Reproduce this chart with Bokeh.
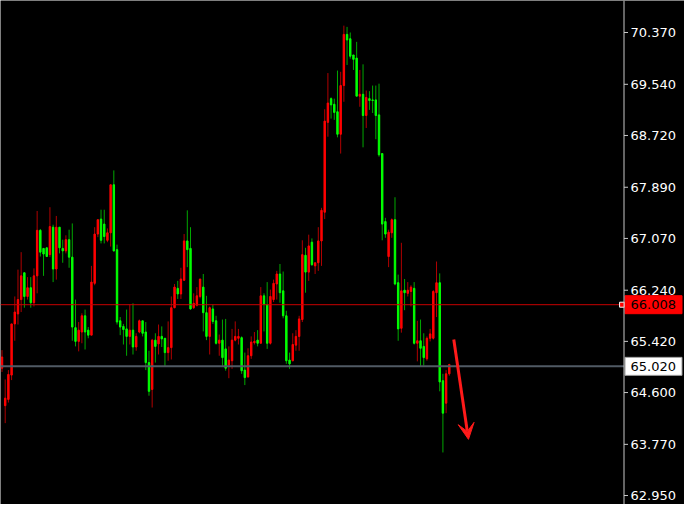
import numpy as np
from bokeh.plotting import figure
from bokeh.models import ColumnDataSource, Arrow, VeeHead, Range1d, Span
from bokeh.core.properties import value
from bokeh.embed import file_html
from bokeh.resources import INLINE

# ---- data ----
opens = [64.99, 64.39, 64.49, 64.88, 65.70, 65.86, 66.09, 66.52, 66.14, 66.28,
         66.04, 66.47, 67.20, 66.91, 66.92, 66.81, 67.25, 66.58, 67.25, 66.91,
         66.87, 67.05, 66.77, 65.64, 65.42, 65.57, 65.83, 65.60, 65.52, 66.35,
         67.14, 67.38, 67.30, 67.04, 67.16, 67.93, 66.89, 65.75, 65.66, 65.62,
         65.50, 65.60, 65.33, 65.57, 65.75, 65.57, 65.08, 64.65, 65.44, 65.38,
         65.50, 65.47, 65.24, 65.32, 65.96, 66.27, 66.18, 66.40, 67.03, 66.91,
         65.96, 66.00, 66.14, 66.29, 65.88, 65.50, 65.94, 65.75, 65.39, 65.44,
         65.30, 65.04, 65.11, 65.44, 65.47, 65.48, 64.96, 64.85, 65.19, 65.40,
         65.44, 65.39, 66.15, 66.01, 65.39, 66.09, 66.34, 66.50, 66.23, 65.83,
         65.12, 65.11, 65.36, 65.50, 65.77, 66.80, 66.53, 67.01, 66.63, 66.68,
         67.03, 67.49, 68.93, 69.31, 69.22, 69.10, 68.74, 69.52, 70.34, 70.27,
         70.01, 69.96, 69.35, 69.38, 69.04, 69.31, 69.29, 69.29, 69.05, 68.43,
         67.34, 66.78, 67.16, 67.37, 66.36, 65.63, 66.24, 66.19, 66.22, 66.27,
         65.39, 65.43, 65.34, 65.14, 65.47, 65.47, 66.20, 66.36, 64.79, 64.43,
         64.90]
highs = [65.28, 64.81, 64.96, 65.70, 66.14, 66.57, 66.85, 66.52, 66.45, 66.45,
         66.59, 67.51, 67.22, 66.91, 66.92, 67.57, 67.29, 67.43, 67.25, 67.05,
         67.12, 67.21, 67.31, 66.09, 65.73, 65.87, 65.93, 65.65, 66.63, 67.25,
         67.37, 67.53, 67.53, 67.23, 67.93, 68.16, 66.97, 65.81, 65.70, 65.93,
         66.01, 66.03, 65.55, 65.77, 65.75, 65.73, 65.27, 65.46, 65.55, 65.69,
         65.66, 65.47, 65.74, 66.14, 66.34, 66.39, 66.60, 67.14, 67.52, 67.25,
         66.19, 66.29, 66.42, 66.50, 66.15, 65.98, 66.01, 65.83, 65.53, 65.77,
         65.78, 65.34, 65.62, 65.74, 65.62, 65.50, 65.24, 65.31, 65.50, 65.57,
         65.60, 66.29, 66.19, 66.37, 66.25, 66.41, 66.55, 66.66, 66.54, 65.91,
         65.24, 65.55, 65.60, 65.83, 67.04, 66.92, 67.13, 67.07, 66.68, 67.25,
         67.56, 69.14, 69.72, 69.33, 69.31, 69.76, 69.74, 70.48, 70.46, 70.37,
         70.01, 70.22, 69.77, 69.86, 69.44, 69.43, 69.52, 69.52, 69.55, 68.43,
         67.40, 67.21, 67.39, 67.73, 66.49, 67.00, 66.42, 66.37, 66.32, 66.37,
         65.75, 65.77, 65.55, 65.50, 65.62, 66.24, 66.70, 66.51, 64.90, 64.96,
         65.06]
lows = [64.93, 64.11, 64.44, 64.80, 65.43, 65.69, 65.89, 65.96, 66.09, 65.96,
        65.98, 66.19, 66.78, 66.47, 66.78, 66.77, 66.37, 66.41, 66.83, 66.68,
        66.83, 66.60, 65.43, 65.34, 65.26, 65.39, 65.29, 65.47, 65.52, 66.32,
        67.09, 66.99, 66.99, 67.01, 66.94, 66.86, 65.69, 65.52, 65.37, 65.19,
        65.37, 65.21, 65.27, 65.55, 65.50, 64.96, 64.55, 64.36, 65.08, 65.21,
        65.33, 65.01, 65.11, 65.13, 65.95, 66.10, 66.10, 66.39, 66.61, 65.93,
        65.94, 65.98, 66.11, 65.58, 65.44, 65.21, 65.70, 65.37, 65.19, 65.03,
        64.95, 64.83, 64.98, 65.42, 65.37, 64.90, 64.72, 64.84, 65.14, 65.37,
        65.34, 65.39, 65.58, 65.30, 65.37, 66.05, 66.09, 66.04, 65.79, 65.06,
        64.98, 65.10, 65.27, 65.27, 65.73, 66.20, 66.39, 66.63, 66.50, 66.55,
        66.63, 67.38, 68.70, 68.99, 68.97, 68.69, 68.43, 69.26, 69.85, 69.95,
        69.77, 69.35, 69.18, 68.53, 68.84, 69.13, 69.08, 68.66, 68.38, 67.04,
        67.08, 66.61, 67.08, 66.32, 65.43, 65.56, 65.92, 66.14, 65.98, 65.37,
        65.10, 65.01, 65.03, 65.11, 65.42, 65.45, 65.81, 64.62, 63.64, 64.27,
        64.87]
closes = [65.17, 64.51, 64.89, 65.70, 65.89, 66.09, 66.47, 66.14, 66.28, 66.04,
          66.47, 67.20, 66.85, 66.82, 66.78, 67.26, 66.58, 67.25, 66.92, 66.87,
          67.05, 66.77, 65.65, 65.42, 65.60, 65.83, 65.57, 65.52, 66.37, 67.14,
          67.37, 67.04, 67.10, 67.16, 67.93, 66.87, 65.73, 65.65, 65.61, 65.50,
          65.60, 65.33, 65.50, 65.75, 65.55, 65.08, 64.62, 65.44, 65.34, 65.50,
          65.46, 65.24, 65.32, 65.96, 66.29, 66.18, 66.42, 67.03, 66.89, 65.94,
          66.03, 66.15, 66.42, 65.88, 65.50, 65.96, 65.74, 65.39, 65.44, 65.16,
          64.99, 65.12, 65.44, 65.50, 65.50, 64.95, 64.84, 65.19, 65.41, 65.42,
          65.39, 66.15, 66.01, 65.39, 66.14, 66.35, 66.50, 66.20, 65.83, 65.11,
          65.06, 65.37, 65.50, 65.78, 66.81, 66.53, 66.95, 66.65, 66.68, 67.03,
          67.52, 68.95, 69.24, 69.21, 69.09, 68.74, 69.52, 70.34, 70.25, 69.99,
          69.94, 69.35, 69.38, 69.04, 69.33, 69.28, 69.28, 69.04, 68.41, 67.30,
          67.14, 67.17, 67.37, 66.34, 65.62, 66.23, 66.20, 66.24, 66.29, 65.39,
          65.43, 65.31, 65.16, 65.47, 65.54, 66.22, 66.36, 64.77, 64.27, 64.90,
          65.05]

price_ticks = [62.950, 63.770, 64.600, 65.420, 66.240, 67.070, 67.890, 68.720, 69.540, 70.370]
level_red = 66.008
level_gray = 65.020

# ---- layout / style constants ----
W, H = 684, 504
PX = 3.195                      # pixels per bar slot
X_START = -0.47
X_END = X_START + W / PX
AX_X = X_START + 623.5 / PX     # price-scale line position
Y_START, Y_END = 62.806, 70.883
UP_BODY, UP_WICK = "#ff0000", "#b00000"
DN_BODY, DN_WICK = "#00ff00", "#00a800"
AX_COLOR = "#c8c8c8"
FONT = value("DejaVu Sans")
FSIZE = value("13px")

n = len(opens)
o = np.array(opens); c = np.array(closes)
up = c >= o
src = ColumnDataSource(dict(
    x=np.arange(n), high=highs, low=lows,
    top=np.maximum(o, c), bottom=np.minimum(o, c),
    body=[UP_BODY if u else DN_BODY for u in up],
    wick=[UP_WICK if u else DN_WICK for u in up],
))

p = figure(frame_width=W, frame_height=H,
           x_range=Range1d(X_START, X_END), y_range=Range1d(Y_START, Y_END),
           x_axis_location=None, y_axis_location=None,
           output_backend="svg", toolbar_location=None,
           min_border_left=0, min_border_top=0, min_border_bottom=0, min_border_right=0,
           background_fill_color="#000000", border_fill_color="#000000",
           outline_line_color=None)
p.grid.visible = False

# candles
p.segment(x0="x", y0="high", x1="x", y1="low", line_color="wick", line_width=1, source=src)
p.vbar(x="x", width=0.45, top="top", bottom="bottom", fill_color="body",
       line_color="body", line_width=1, source=src)

# horizontal levels (stop at the price scale)
p.segment(x0=[X_START], y0=[level_red], x1=[AX_X], y1=[level_red], line_color="#c80000", line_width=1)
p.segment(x0=[X_START], y0=[level_gray], x1=[AX_X], y1=[level_gray], line_color="#505a64", line_width=2)
p.scatter(x=[AX_X - 0.6], y=[level_red], marker="square", size=5,
          fill_color="#ff0000", line_color="#ffffff", line_width=1)

# price scale
p.add_layout(Span(location=AX_X, dimension="height", line_color=AX_COLOR, line_width=1))
p.segment(x0=[AX_X] * len(price_ticks), y0=price_ticks,
          x1=[AX_X + 4 / PX] * len(price_ticks), y1=price_ticks,
          line_color=AX_COLOR, line_width=1)
p.text(x=[AX_X + 6.5 / PX] * len(price_ticks), y=price_ticks,
       text=[f"{t:.3f}" for t in price_ticks], text_color="#ffffff",
       text_font=FONT, text_font_size=FSIZE, text_align="left", text_baseline="middle")

# price tags
tag_levels = [level_red, level_gray]
tag_fill = ["#ff0000", "#ffffff"]
tag_line = ["#ff0000", "#a0a0a0"]
p.rect(x=[AX_X + 29.5 / PX] * 2, y=tag_levels, width=57, height=18,
       width_units="screen", height_units="screen",
       fill_color=tag_fill, line_color=tag_line, line_width=1)
p.text(x=[AX_X + 6.5 / PX] * 2, y=tag_levels, text=[f"{v:.3f}" for v in tag_levels],
       text_color="#000000", text_font=FONT, text_font_size=FSIZE,
       text_align="left", text_baseline="middle")

# arrow
p.add_layout(Arrow(end=VeeHead(size=16, fill_color="#ff1a1a", line_color="#ff1a1a"),
                   x_start=141.4, y_start=65.45, x_end=146.0, y_end=63.85,
                   line_color="#ff1a1a", line_width=3))

open("out.html", "w").write(file_html(p, INLINE))
